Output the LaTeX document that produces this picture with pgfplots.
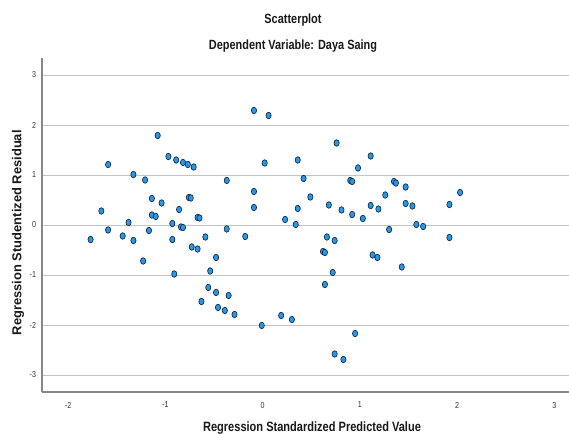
\documentclass[border=0pt]{standalone}
\usepackage{fontspec}
\setmainfont[FakeStretch=0.82]{Liberation Sans}
\newfontfamily\plainsans{Liberation Sans}
\usepackage{pgfplots}
\pgfplotsset{compat=1.18}
\definecolor{ptfill}{HTML}{2399EE}
\definecolor{ptedge}{HTML}{14283C}
\definecolor{gridc}{HTML}{C4C4C4}
\definecolor{axc}{HTML}{888888}
\definecolor{tickc}{HTML}{333333}
\begin{document}
\begin{tikzpicture}
\begin{axis}[
  name=ax,
  scale only axis,
  width=395.25pt, height=250.5pt,
  xmin=-2.27, xmax=3.15, ymin=-3.34, ymax=3.34,
  axis x line=bottom, axis y line=left,
  axis line style={axc, line width=0.8pt, -},
  xtick={-2,-1,0,1,2,3}, ytick={-3,-2,-1,0,1,2,3},
  major tick length=0pt,
  ymajorgrids, grid style={gridc, line width=0.7pt},
  /pgf/number format/assume math mode=true,
  ticklabel style={font=\fontsize{6.5}{7.5}\selectfont, text=tickc},
  xticklabel style={yshift=-4pt},
  yticklabel style={xshift=-1pt},
  clip=false,
]
\addplot[only marks, mark=*, mark size=2.45pt,
  mark options={xscale=0.8, fill=ptfill, draw=ptedge, line width=0.5pt}]
  table {
x y
-1.08 1.79
-1.59 1.21
-0.97 1.37
-0.89 1.30
-0.82 1.25
-0.77 1.21
-0.71 1.16
-1.33 1.01
-1.21 0.90
-1.14 0.53
-1.04 0.44
-0.76 0.55
-0.74 0.54
-0.86 0.31
-1.66 0.28
-1.14 0.20
-1.10 0.17
-0.67 0.15
-0.65 0.14
-1.38 0.05
-0.93 0.03
-0.84 -0.04
-0.82 -0.05
-1.59 -0.10
-1.17 -0.11
-0.59 -0.24
-1.77 -0.29
-1.44 -0.22
-1.33 -0.31
-0.93 -0.29
-0.73 -0.44
-0.67 -0.48
-1.23 -0.72
-0.91 -0.98
-0.48 -0.65
-0.54 -0.92
-0.56 -1.25
-0.48 -1.35
-0.63 -1.53
-0.46 -1.65
-0.39 -1.71
-0.35 -1.41
-0.29 -1.79
-0.09 2.29
0.06 2.19
0.76 1.64
1.11 1.38
0.02 1.24
0.36 1.30
0.98 1.14
-0.37 0.89
0.42 0.93
0.90 0.89
0.92 0.87
-0.09 0.67
0.49 0.56
-0.09 0.35
0.36 0.33
0.68 0.40
0.81 0.30
0.92 0.21
1.03 0.13
1.11 0.39
1.19 0.32
0.23 0.11
0.34 0.01
-0.37 -0.08
-0.18 -0.23
0.66 -0.24
0.74 -0.31
0.62 -0.53
0.64 -0.55
0.72 -0.95
0.64 -1.19
0.95 -2.17
0.74 -2.58
0.83 -2.69
-0.01 -2.01
0.19 -1.81
0.30 -1.89
1.13 -0.60
1.18 -0.65
1.35 0.87
1.37 0.84
1.47 0.76
2.03 0.65
1.26 0.60
1.47 0.43
1.54 0.38
1.92 0.41
1.30 -0.09
1.58 0.01
1.65 -0.03
1.92 -0.25
1.43 -0.84
};
\end{axis}
\node[font=\bfseries\fontsize{10}{12}\selectfont, text=black!90] at ([shift={(188.25pt,279pt)}]ax.south west) {Scatterplot};
\node[font=\bfseries\fontsize{10}{12}\selectfont, text=black!90] at ([shift={(188.25pt,259.5pt)}]ax.south west) {Dependent Variable: Daya Saing};
\node[font=\bfseries\fontsize{10.1}{12}\selectfont, text=black!90] at ([shift={(202.5pt,-27pt)}]ax.south west) {Regression Standardized Predicted Value};
\node[font=\plainsans\bfseries\fontsize{9.7}{12}\selectfont, text=black!90, rotate=90] at ([shift={(-18pt,119.5pt)}]ax.south west) {Regression Studentized Residual};
\pgfresetboundingbox
\path[use as bounding box] ([shift={(-31.5pt,-31.5pt)}]ax.south west) rectangle ([shift={(0pt,43.5pt)}]ax.north east);
\end{tikzpicture}
\end{document}
